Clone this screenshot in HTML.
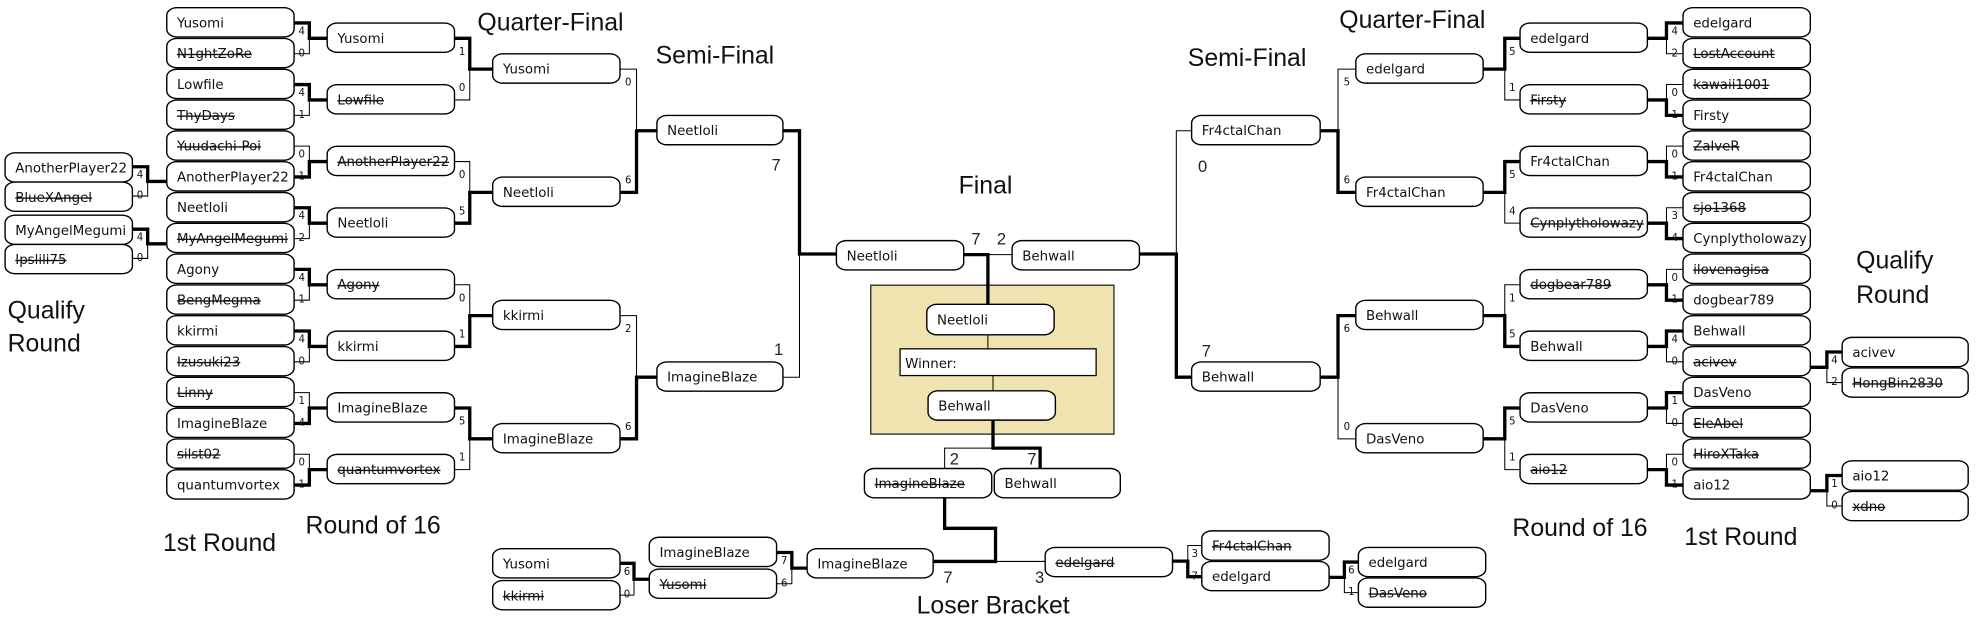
<!DOCTYPE html>
<html><head><meta charset="utf-8"><style>
html,body{margin:0;padding:0;background:#fff;}
svg{display:block;}
text{font-family:"DejaVu Sans","Liberation Sans",sans-serif;}
.n{font-size:10.5px;fill:#111;}
.s{font-size:8px;fill:#111;}
.b{font-size:13px;fill:#222;font-family:"Liberation Sans",sans-serif;}
.h{font-size:19.5px;fill:#111;font-family:"Liberation Sans",sans-serif;}
</style></head><body>
<svg id="g" width="1986" height="634" viewBox="0 0 1560 498" xmlns="http://www.w3.org/2000/svg">
<rect x="684" y="224" width="191" height="117" fill="#EFE4B0" stroke="#222" stroke-width="1"/>
<rect x="707" y="274" width="154" height="21" fill="#fff" stroke="#000" stroke-width="1"/>
<text class="n" x="711" y="289">Winner:</text>
<text class="h" x="375" y="24">Quarter-Final</text>
<text class="h" x="515" y="50">Semi-Final</text>
<text class="h" x="753" y="152">Final</text>
<text class="h" x="6" y="250">Qualify</text>
<text class="h" x="6" y="276">Round</text>
<text class="h" x="240" y="419">Round of 16</text>
<text class="h" x="128" y="433">1st Round</text>
<text class="h" x="720" y="482">Loser Bracket</text>
<text class="h" x="1052" y="22">Quarter-Final</text>
<text class="h" x="933" y="52">Semi-Final</text>
<text class="h" x="1458" y="211">Qualify</text>
<text class="h" x="1458" y="238">Round</text>
<text class="h" x="1188" y="421">Round of 16</text>
<text class="h" x="1323" y="428">1st Round</text>
</svg>
<script>
var S=document.getElementById('g'),NS='http://www.w3.org/2000/svg';
function el(t,a,txt){var e=document.createElementNS(NS,t);for(var k in a)e.setAttribute(k,a[k]);if(txt!=null)e.textContent=txt;S.appendChild(e);return e;}
function box(x1,x2,y,h,name){var st=name[0]=='~';if(st)name=name.slice(1);
 el('rect',{x:x1,y:y,width:x2-x1,height:h,rx:8,ry:6,fill:'#fff',stroke:'#000','stroke-width':1.1});
 var a={x:x1+8,y:y+h/2+4,'class':'n'};if(st)a['text-decoration']='line-through';el('text',a,name);}
function ln(pts,w){el('polyline',{points:pts.map(function(p){return p.join(',')}).join(' '),fill:'none',stroke:'#000','stroke-width':w,'stroke-linejoin':'miter','stroke-linecap':'square'});}
function match(edge,xv,cT,cB,next,sT,sB,noScore){var mid=(cT+cB)/2;
 ln([[edge,cT],[xv,cT],[xv,cB],[edge,cB]],0.8);
 var cw=sT>sB?cT:cB;
 ln([[edge,cw],[xv,cw],[xv,mid],[next,mid]],2.6);
 if(!noScore){var x=(edge+xv)/2,wide=(cB-cT)>30;
  el('text',{x:x,y:wide?cT+13:cT+9,'class':'s','text-anchor':'middle'},sT);
  el('text',{x:x,y:wide?cB-7:cB+2,'class':'s','text-anchor':'middle'},sB);}
}
var c1=[];for(var i=0;i<16;i++)c1.push(6+i*24.2+12);
function mids(a){var r=[];for(var i=0;i<a.length;i+=2)r.push((a[i]+a[i+1])/2);return r;}
var c2=mids(c1),c3=mids(c2),c4=mids(c3);
var H=23;
var Ln1=['Yusomi','~N1ghtZoRe','Lowfile','~ThyDays','~Yuudachi-Poi','AnotherPlayer22','Neetloli','~MyAngelMegumi','Agony','~BengMegma','kkirmi','~Izusuki23','~Linny','ImagineBlaze','~silst02','quantumvortex'];
var Ln2=['Yusomi','~Lowfile','~AnotherPlayer22','Neetloli','~Agony','kkirmi','ImagineBlaze','~quantumvortex'];
var Ln3=['Yusomi','Neetloli','kkirmi','ImagineBlaze'],Ln4=['Neetloli','ImagineBlaze'];
var Ls1=[[4,0],[4,1],[0,1],[4,2],[4,1],[4,0],[1,4],[0,1]],Ls2=[[1,0],[0,5],[0,1],[5,1]],Ls3=[[0,6],[2,6]];
var Rn1=['edelgard','~LostAccount','~kawaii1001','Firsty','~ZalveR','Fr4ctalChan','~sjo1368','Cynplytholowazy','~ilovenagisa','dogbear789','Behwall','~acivev','DasVeno','~EleAbel','~HiroXTaka','aio12'];
var Rn2=['edelgard','~Firsty','Fr4ctalChan','~Cynplytholowazy','~dogbear789','Behwall','DasVeno','~aio12'];
var Rn3=['edelgard','Fr4ctalChan','Behwall','DasVeno'],Rn4=['Fr4ctalChan','Behwall'];
var Rs1=[[4,2],[0,1],[0,1],[3,4],[0,1],[4,0],[1,0],[0,1]],Rs2=[[5,1],[5,4],[1,5],[5,1]],Rs3=[[5,6],[6,0]];
for(var i=0;i<8;i++){match(231,243,c1[2*i],c1[2*i+1],257,Ls1[i][0],Ls1[i][1]);match(1322,1309,c1[2*i],c1[2*i+1],1294,Rs1[i][0],Rs1[i][1]);}
for(var i=0;i<4;i++){match(357,369,c2[2*i],c2[2*i+1],387,Ls2[i][0],Ls2[i][1]);match(1194,1182,c2[2*i],c2[2*i+1],1165,Rs2[i][0],Rs2[i][1]);}
for(var i=0;i<2;i++){match(487,500,c3[2*i],c3[2*i+1],516,Ls3[i][0],Ls3[i][1]);match(1065,1051,c3[2*i],c3[2*i+1],1037,Rs3[i][0],Rs3[i][1]);}
match(615,628,c4[0],c4[1],657,7,1,true);
match(936,924,c4[0],c4[1],895,0,7,true);
match(104,116,131,154,131,4,0);match(104,116,180,203,131,4,0);
match(1447,1435,276.5,300.5,1422,4,2);match(1447,1435,373.5,397.5,1422,1,0);
match(487,498,442.5,467.5,510,6,0);
match(610,622,434,458.5,634,7,6);
match(944,933,428.5,453,921,3,7);
match(1067,1056,441.5,465.5,1044,6,1);
ln([[757,200],[776,200],[776,239]],2.6);ln([[776,200],[795,200]],0.8);
ln([[776,263],[776,274]],0.8);ln([[780,295],[780,307]],0.8);
ln([[742,352],[742,368]],0.8);ln([[780,352],[742,352]],0.8);
ln([[780,330],[780,352],[817,352],[817,368]],2.6);
ln([[782,441],[821,441]],0.8);
ln([[742,392],[742,415],[782,415],[782,441],[733,441]],2.6);
for(var i=0;i<16;i++){box(131,231,c1[i]-12,H,Ln1[i]);box(1322,1422,c1[i]-12,H,Rn1[i]);}
for(var i=0;i<8;i++){box(257,357,c2[i]-12,H,Ln2[i]);box(1194,1294,c2[i]-12,H,Rn2[i]);}
for(var i=0;i<4;i++){box(387,487,c3[i]-12,H,Ln3[i]);box(1065,1165,c3[i]-12,H,Rn3[i]);}
for(var i=0;i<2;i++){box(516,615,c4[i]-12,H,Ln4[i]);box(936,1037,c4[i]-12,H,Rn4[i]);}
box(4,104,120,H,'AnotherPlayer22');box(4,104,143,H,'~BlueXAngel');box(4,104,169,H,'MyAngelMegumi');box(4,104,192,H,'~Ipslili75');
box(1447,1546,265,H,'acivev');box(1447,1546,289,H,'~HongBin2830');box(1447,1546,362,H,'aio12');box(1447,1546,386,H,'~xdno');
box(657,757,189,H,'Neetloli');box(795,895,189,H,'Behwall');
box(728,828,239,24,'Neetloli');box(729,829,307,23,'Behwall');
box(679,779,368,H,'~ImagineBlaze');box(781,880,368,H,'Behwall');
box(387,487,431,H,'Yusomi');box(387,487,456,H,'~kkirmi');
box(510,610,422,H,'ImagineBlaze');box(510,610,447,H,'~Yusomi');
box(634,733,431,H,'ImagineBlaze');
box(821,921,430,H,'~edelgard');
box(944,1044,417,H,'~Fr4ctalChan');box(944,1044,441,H,'edelgard');
box(1067,1167,430,H,'edelgard');box(1067,1167,454,H,'~DasVeno');
[[606,134,'7'],[608,279,'1'],[941,135,'0'],[944,280,'7'],[763,192,'7'],[783,192,'2'],[746,365,'2'],[807,365,'7'],[741,458,'7'],[813,458,'3']].forEach(function(s){el('text',{x:s[0],y:s[1],'class':'b'},s[2]);});
</script>
</body></html>
